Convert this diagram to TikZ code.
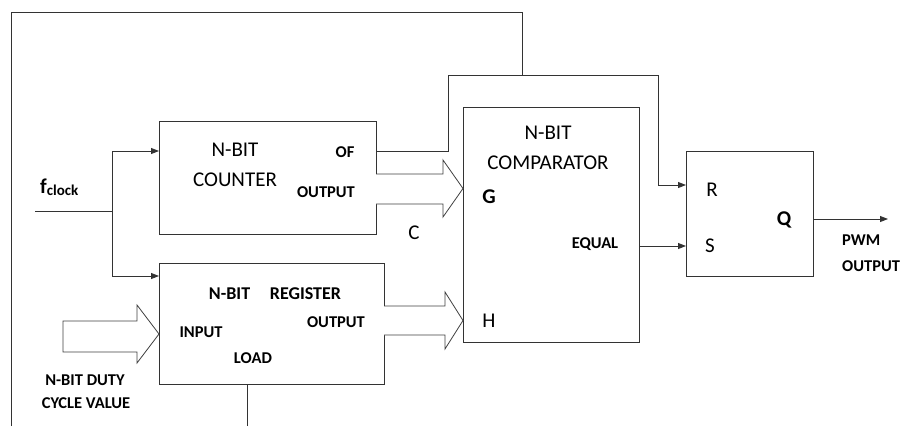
\documentclass[tikz,border=0pt]{standalone}
\usepackage{fontspec}
\setmainfont{Carlito}
\usetikzlibrary{arrows.meta}
\begin{document}
\begin{tikzpicture}[x=1pt,y=-1pt,
  ln/.style={draw=black!80,line width=0.9pt},
  arr/.style={ln,-{Triangle[length=8pt,width=6pt]}},
  box/.style={ln,rectangle,inner sep=0pt,anchor=north west},
  big/.style={font=\fontsize{21}{24}\selectfont,inner sep=0pt},
  bigb/.style={font=\fontsize{21}{24}\selectfont\bfseries,inner sep=0pt},
  sm/.style={font=\fontsize{16.5}{20}\selectfont\bfseries,inner sep=0pt},
  hollow/.style={draw=black!75,line width=0.8pt,fill=white}]
\useasboundingbox (0,0) rectangle (904,426);

% boxes
\node[box,minimum width=217pt,minimum height=113pt] (counter) at (159,121) {};
\node[box,minimum width=225pt,minimum height=121pt] (register) at (159,263) {};
\node[box,minimum width=176pt,minimum height=235pt] (comp) at (463,107) {};
\node[box,minimum width=127pt,minimum height=125pt] (sr) at (686,151) {};

% texts
\node[big] (t1) at (235,150) {N-BIT};
\node[big] (t2) at (235,180) {COUNTER};
\node[sm] (t3) at (345,152) {OF};
\node[sm] (t4) at (326,192) {OUTPUT};
\node[big] (t5) at (414,233) {C};
\node[sm,font=\fontsize{18}{21}\selectfont\bfseries] (t6) at (275,294) {N-BIT\hspace{1.1em}REGISTER};
\node[sm] (t7) at (201,332) {INPUT};
\node[sm] (t8) at (336,322) {OUTPUT};
\node[sm] (t9) at (253,358) {LOAD};
\node[sm] (t10) at (85,380) {N-BIT DUTY};
\node[sm] (t11) at (86,403) {CYCLE VALUE};
\node[big] (t12) at (548,133) {N-BIT};
\node[big] (t13) at (548,163) {COMPARATOR};
\node[bigb] (t14) at (489,197) {G};
\node[sm] (t15) at (595,244) {EQUAL};
\node[big] (t16) at (489,321) {H};
\node[big] (t17) at (712,190) {R};
\node[big] (t18) at (710,246) {S};
\node[bigb] (t19) at (784,220) {Q};
\node[sm,anchor=west] (t20) at (842,240) {PWM};
\node[sm,anchor=west] (t21) at (842,266) {OUTPUT};
\node[inner sep=0pt,anchor=west] (fclk) at (40,187) {\fontsize{21}{24}\selectfont\bfseries f\raisebox{-2pt}{\fontsize{15}{18}\selectfont\bfseries clock}};

% clock
\coordinate (clkin) at (35,211);
\coordinate (split) at (112,211);
\draw[ln] (clkin) -- (split);
\draw[arr] (split) |- ([yshift=-30pt]counter.north west);
\draw[arr] (split) |- ([yshift=-13pt]register.north west);

% hollow arrows
\draw[hollow] (376,174) -- (443,174) -- (443,160) -- (463,188.5) -- (443,217) -- (443,204) -- (376,204);
\draw[hollow] (384,306) -- (445,306) -- (445,292) -- (463,320.5) -- (445,349) -- (445,335) -- (384,335);
\draw[hollow] (63,321) -- (137,321) -- (137,305) -- (159,334) -- (137,363) -- (137,352) -- (63,352) -- cycle;

% feedback loops
\coordinate (loopbot) at (11,426);
\coordinate (looptop) at (522,75);
\draw[ln] (loopbot) -- (11,12) -- (522,12) -- (looptop);
\coordinate (loadbot) at (247,426);
\draw[ln] (loadbot) -- (register.south west -| loadbot);
\draw[arr] ([yshift=-30pt]counter.north east) -- (448,151) -- (448,75) -- (658,75) |- ([yshift=-34pt]sr.north west);

% outputs
\draw[arr] ([yshift=-139pt]comp.north east) -- ([yshift=-95pt]sr.north west);
\coordinate (pwm) at (888,219);
\draw[arr] ([yshift=-68pt]sr.north east) -- (pwm);
\end{tikzpicture}
\end{document}
